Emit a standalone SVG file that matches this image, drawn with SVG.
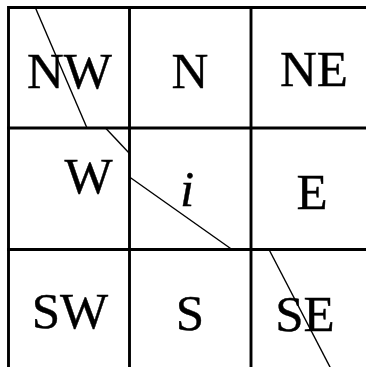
<svg xmlns="http://www.w3.org/2000/svg" width="366" height="367" viewBox="0 0 366 367">
<style>
.grid{stroke:#000;stroke-width:2.9;fill:none}
.diag{stroke:#000;stroke-width:1.4;fill:none}
.lbl{font-family:"Liberation Serif","Times New Roman",serif;font-size:51px;fill:#000;stroke:#000;stroke-width:0.4;text-anchor:middle}
.it{font-style:italic}
</style>
<rect width="366" height="367" fill="#fff"/>
<g id="grid" class="grid">
<line x1="8.5" y1="7.5" x2="366" y2="7.5"/>
<line x1="7" y1="128" x2="366" y2="128"/>
<line x1="7" y1="249.5" x2="366" y2="249.5"/>
<line x1="8.5" y1="6" x2="8.5" y2="367"/>
<line x1="129.5" y1="6" x2="129.5" y2="367"/>
<line x1="251" y1="6" x2="251" y2="367"/>
</g>
<g id="connectors" class="diag">
<line x1="35.5" y1="8" x2="87" y2="128"/>
<line x1="106" y1="128.5" x2="129.5" y2="153.5"/>
<line x1="129.5" y1="177" x2="232" y2="249.5"/>
<line x1="269" y1="249.5" x2="330.5" y2="368"/>
</g>
<g id="NW"><text class="lbl" x="69.5" y="88">NW</text></g>
<g id="N"><text class="lbl" x="190" y="88">N</text></g>
<g id="NE"><text class="lbl" x="314" y="86">NE</text></g>
<g id="W"><text class="lbl" x="88.5" y="193">W</text></g>
<g id="i"><text class="lbl it" x="187" y="206">i</text></g>
<g id="E"><text class="lbl" x="312" y="209">E</text></g>
<g id="SW"><text class="lbl" x="70" y="328">SW</text></g>
<g id="S"><text class="lbl" x="190" y="330">S</text></g>
<g id="SE"><text class="lbl" x="305" y="331">SE</text></g>
</svg>
